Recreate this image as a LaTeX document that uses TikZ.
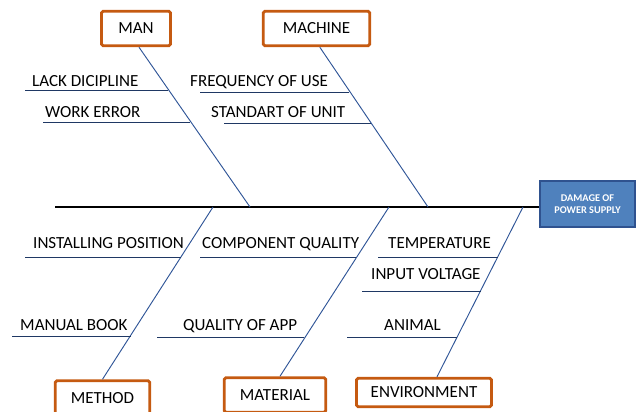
\documentclass[tikz,border=0pt]{standalone}
\usepackage{fontspec}
\setmainfont{Carlito}
\usetikzlibrary{positioning}
\definecolor{boxorange}{HTML}{C55A11}
\definecolor{effectblue}{HTML}{4F81BD}
\definecolor{effectdark}{HTML}{2F528F}
\definecolor{bonenavy}{HTML}{2F5597}
\definecolor{ribnavy}{HTML}{1F3864}
\tikzset{
  catbox/.style={draw=boxorange, line width=2.4pt, rounded corners=1.5pt, fill=white, inner sep=0pt, font=\fontsize{14.5}{16}\selectfont},
  effectbox/.style={draw=effectdark, line width=1.6pt, fill=effectblue, text=white, align=center, inner sep=0pt, font=\fontsize{8.8}{10.5}\selectfont\bfseries},
  bone/.style={draw=bonenavy, line width=0.8pt},
  rib/.style={draw=ribnavy, line width=0.8pt},
  spine/.style={draw=black, line width=1.2pt},
  cause/.style={anchor=base west, inner sep=0pt, font=\fontsize{14.5}{16}\selectfont},
}
\begin{document}
\begin{tikzpicture}[x=0.03cm, y=-0.03cm]
  \useasboundingbox (0,0) rectangle (638,411);

  % effect and categories
  \node[effectbox, minimum width=2.85cm, minimum height=1.38cm] (effect) at (587.5,204) {DAMAGE OF\\POWER SUPPLY};
  \node[catbox, minimum width=2.07cm, minimum height=1.04cm] (man) at (136,28.5) {MAN};
  \node[catbox, minimum width=3.2cm, minimum height=1.04cm] (machine) at (316.5,28.5) {MACHINE};
  \node[catbox, minimum width=2.84cm, minimum height=1.04cm] (method) at (102.5,398) {METHOD};
  \node[catbox, minimum width=3.05cm, minimum height=1.04cm] (material) at (275,395) {MATERIAL};
  \node[catbox, minimum width=4.05cm, minimum height=0.86cm] (environment) at (424,392.5) {ENVIRONMENT};

  % spine
  \coordinate (tail) at (55,207);
  \draw[spine] (tail) -- (effect.west |- tail);

  % bones
  \coordinate (sman) at (250,207);
  \coordinate (smachine) at (428,207);
  \coordinate (smethod) at (213,207);
  \coordinate (smaterial) at (389,207);
  \coordinate (senvironment) at (523,207);
  \draw[bone] ([xshift=0.09cm]man.south) -- (sman);
  \draw[bone] ([xshift=0.1cm]machine.south) -- (smachine);
  \draw[bone] (method.north) -- (smethod);
  \draw[bone] ([xshift=0.15cm]material.north) -- (smaterial);
  \draw[bone] ([xshift=0.39cm]environment.north) -- (senvironment);

  % Man causes
  \node[cause] (lack) at (32,86) {LACK DICIPLINE};
  \draw[rib] (25,90) -- (168,90);
  \node[cause] (work) at (45,117) {WORK ERROR};
  \draw[rib] (43,122) -- (190,122);

  % Machine causes
  \node[cause] (freq) at (190,86) {FREQUENCY OF USE};
  \draw[rib] (200,92) -- (349,92);
  \node[cause] (unit) at (211,117) {STANDART OF UNIT};
  \draw[rib] (224,123) -- (371,123);

  % Method causes
  \node[cause] (install) at (33,248) {INSTALLING POSITION};
  \draw[rib] (25,257) -- (181,257);
  \node[cause] (manual) at (20,330) {MANUAL BOOK};
  \draw[rib] (12,336) -- (131,336);

  % Material causes
  \node[cause] (component) at (202,248) {COMPONENT QUALITY};
  \draw[rib] (200,257) -- (356,257);
  \node[cause] (app) at (183,330) {QUALITY OF APP};
  \draw[rib] (157,337) -- (304,337);

  % Environment causes
  \node[cause] (temp) at (388,248) {TEMPERATURE};
  \draw[rib] (378,257) -- (498,257);
  \node[cause] (voltage) at (371,279) {INPUT VOLTAGE};
  \draw[rib] (362,291) -- (481,291);
  \node[cause] (animal) at (384,330) {ANIMAL};
  \draw[rib] (347,337) -- (457,337);
\end{tikzpicture}
\end{document}
